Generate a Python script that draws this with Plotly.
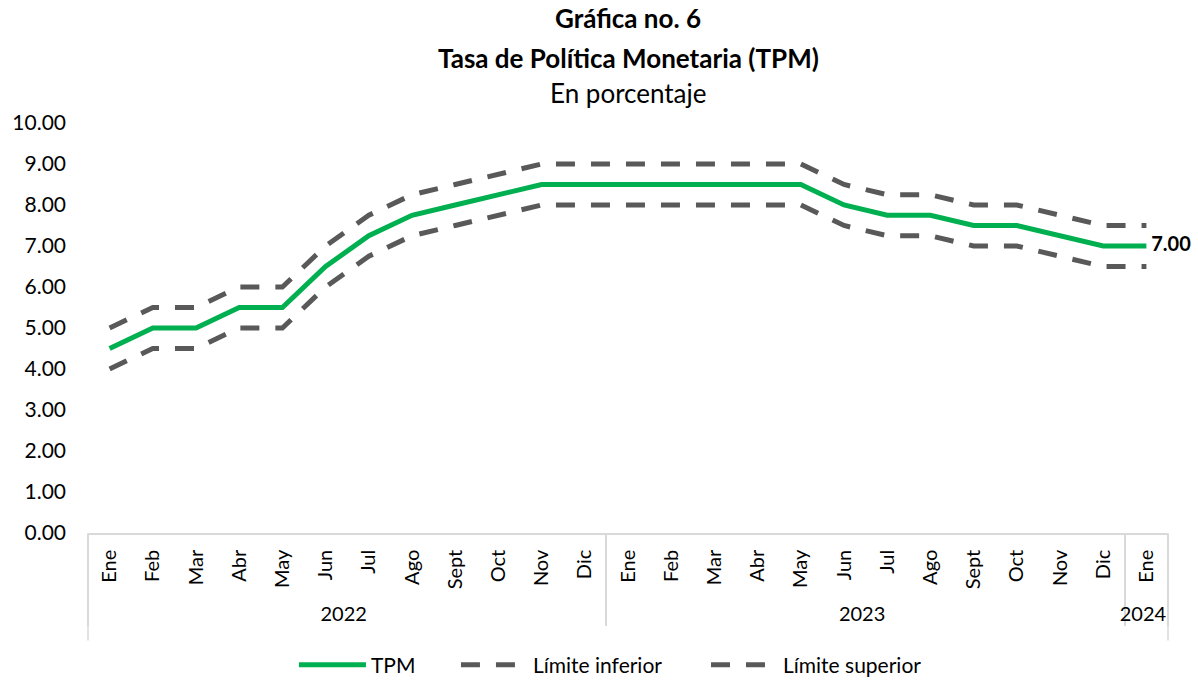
import plotly.graph_objects as go

years = ["2022"] * 12 + ["2023"] * 12 + ["2024"]
months = ["Ene", "Feb", "Mar", "Abr", "May", "Jun", "Jul", "Ago", "Sept", "Oct", "Nov", "Dic",
          "Ene", "Feb", "Mar", "Abr", "May", "Jun", "Jul", "Ago", "Sept", "Oct", "Nov", "Dic",
          "Ene"]
tpm = [4.50, 5.00, 5.00, 5.50, 5.50, 6.50, 7.25, 7.75, 8.00, 8.25, 8.50, 8.50,
       8.50, 8.50, 8.50, 8.50, 8.50, 8.00, 7.75, 7.75, 7.50, 7.50, 7.25, 7.00,
       7.00]
lim_inf = [4.00, 4.50, 4.50, 5.00, 5.00, 6.00, 6.75, 7.25, 7.50, 7.75, 8.00, 8.00,
           8.00, 8.00, 8.00, 8.00, 8.00, 7.50, 7.25, 7.25, 7.00, 7.00, 6.75, 6.50,
           6.50]
lim_sup = [5.00, 5.50, 5.50, 6.00, 6.00, 7.00, 7.75, 8.25, 8.50, 8.75, 9.00, 9.00,
           9.00, 9.00, 9.00, 9.00, 9.00, 8.50, 8.25, 8.25, 8.00, 8.00, 7.75, 7.50,
           7.50]
title_lines = ["<b>Gráfica no. 6</b>", "<b>Tasa de Política Monetaria (TPM)</b>", "En porcentaje"]

FONT = "Lato"
GRID = "#D9D9D9"
x = [years, months]

fig = go.Figure()
fig.add_trace(go.Scatter(x=x, y=tpm, name="TPM", mode="lines", legend="legend",
                         line=dict(color="#00B050", width=5)))
fig.add_trace(go.Scatter(x=x, y=lim_inf, name="Límite inferior", mode="lines", legend="legend2",
                         line=dict(color="#595959", width=5, dash="19px,16px")))
fig.add_trace(go.Scatter(x=x, y=lim_sup, name="Límite superior", mode="lines", legend="legend3",
                         line=dict(color="#595959", width=5, dash="19px,16px")))

# label for last TPM value
fig.add_trace(go.Scatter(x=[[years[-1]], [months[-1]]], y=[tpm[-1]], mode="text",
                         text=[f"<b> {tpm[-1]:.2f}</b>"], textposition="middle right",
                         textfont=dict(family=FONT, size=20, color="black"),
                         showlegend=False, cliponaxis=False, hoverinfo="skip"))

# title lines as annotations
for txt, yp in zip(title_lines, [1.256, 1.158, 1.073]):
    fig.add_annotation(text=txt, xref="paper", yref="paper", x=0.5, y=yp,
                       xanchor="center", yanchor="middle", showarrow=False,
                       font=dict(family=FONT, size=26, color="black"))

# outer edges of the category box
fig.add_shape(type="line", xref="paper", yref="paper", x0=0, x1=0, y0=0, y1=-0.262,
              line=dict(color=GRID, width=1.5))
fig.add_shape(type="line", xref="paper", yref="paper", x0=1, x1=1, y0=0, y1=-0.262,
              line=dict(color=GRID, width=1.5))

leg_common = dict(orientation="h", xanchor="left", y=-0.272, yanchor="top", itemwidth=67,
                  font=dict(family=FONT, size=21), bgcolor="rgba(0,0,0,0)")
fig.update_layout(
    width=1198, height=681,
    paper_bgcolor="white", plot_bgcolor="white",
    margin=dict(l=88, r=30, t=123, b=148, autoexpand=False),
    font=dict(family=FONT, size=20, color="black"),
    showlegend=True,
    legend=dict(x=0.1907, **leg_common),
    legend2=dict(x=0.3407, **leg_common),
    legend3=dict(x=0.5722, **leg_common),
)
fig.update_yaxes(range=[0, 10], dtick=1, tickformat=".2f", showgrid=False, zeroline=False,
                 showline=False, ticks="", ticklabelstandoff=21, automargin=False,
                 tickfont=dict(family=FONT, size=21))
fig.update_xaxes(type="multicategory", range=[-0.5, 24.5], showgrid=False, showline=True,
                 linecolor=GRID, linewidth=1.5, ticks="", tickangle=-90, showdividers=True,
                 dividercolor=GRID, dividerwidth=1.5, automargin=False, ticklabelstandoff=7,
                 tickfont=dict(family=FONT, size=20))

fig.write_html("out.html", config={"displayModeBar": False},
               post_script="document.body.style.margin='0px';document.body.style.overflow='hidden';")
